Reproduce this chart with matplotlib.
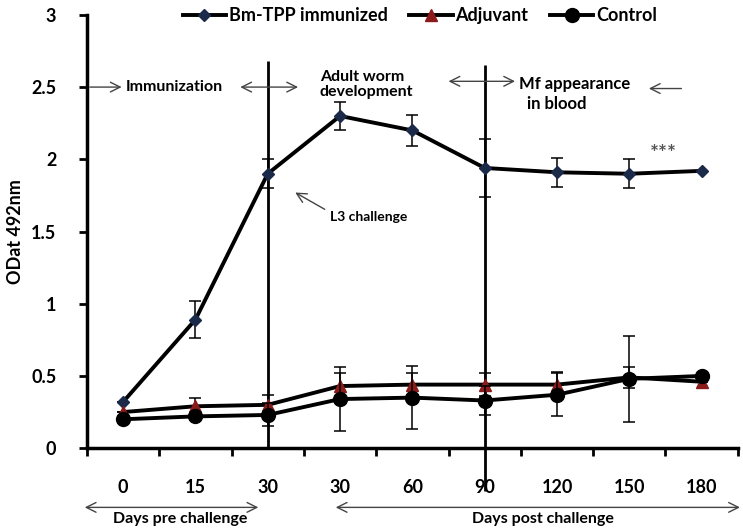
import matplotlib
matplotlib.use("Agg")
from matplotlib import pyplot as plt
from matplotlib.lines import Line2D
import numpy as np

plt.rcParams['font.family'] = ['Lato', 'DejaVu Sans']
plt.rcParams['font.weight'] = 'bold'

days = ['0', '15', '30', '30', '60', '90', '120', '150', '180']
bm_tpp = [0.32, 0.89, 1.90, 2.30, 2.20, 1.94, 1.91, 1.90, 1.92]
bm_err = [0, 0.13, 0.10, 0.10, 0.11, 0.20, 0.10, 0.10, 0]
adjuvant = [0.25, 0.29, 0.30, 0.43, 0.44, 0.44, 0.44, 0.49, 0.46]
adj_err = [0, 0.06, 0.07, 0.09, 0.08, 0.08, 0.09, 0.07, 0]
control = [0.20, 0.22, 0.23, 0.34, 0.35, 0.33, 0.37, 0.48, 0.50]
ctrl_err = [0, 0, 0.08, 0.22, 0.22, 0.10, 0.15, 0.30, 0]

x = np.arange(len(days))

fig = plt.figure(figsize=(7.43, 5.31), dpi=100)
ax = fig.add_axes([0.117, 0.156, 0.876, 0.816])

ebkw = dict(ecolor='black', elinewidth=1.1, capsize=4, capthick=1.1)
sty = {
    'Bm-TPP immunized': dict(marker='D', ms=6, mfc='#1c2a4a', mec='#1c2a4a'),
    'Adjuvant': dict(marker='^', ms=9, mfc='#8b1a1a', mec='#8b1a1a'),
    'Control': dict(marker='o', ms=10, mfc='black', mec='black'),
}
ax.errorbar(x, bm_tpp, yerr=bm_err, color='black', lw=2.8, zorder=3,
            **sty['Bm-TPP immunized'], **ebkw)
ax.errorbar(x, adjuvant, yerr=adj_err, color='black', lw=2.8, zorder=4,
            **sty['Adjuvant'], **ebkw)
ax.errorbar(x, control, yerr=ctrl_err, color='black', lw=2.8, zorder=5,
            **sty['Control'], **ebkw)

# phase separators
ax.vlines(2, 0, 2.68, color='black', lw=2, zorder=2)
ax.vlines(5, -0.3, 2.65, color='black', lw=2, zorder=2, clip_on=False)

ax.set_xlim(-0.5, 8.5)
ax.set_ylim(0, 3)
ax.set_yticks([0, 0.5, 1, 1.5, 2, 2.5, 3])
ax.set_yticklabels(['0', '0.5', '1', '1.5', '2', '2.5', '3'])
ax.set_xticks(x)
ax.set_xticklabels(days)
ax.set_xticks(np.arange(-0.5, 9, 1), minor=True)
ax.tick_params(axis='x', which='major', length=0, pad=22, labelsize=13)
ax.tick_params(axis='x', which='minor', length=6, width=2, direction='out')
ax.tick_params(axis='y', length=6, width=2, labelsize=13, pad=16)
for s in ['top', 'right']:
    ax.spines[s].set_visible(False)
for s in ['left', 'bottom']:
    ax.spines[s].set_linewidth(2.5)
ax.set_ylabel('ODat 492nm', fontsize=13, fontweight='bold', labelpad=5)

hd = 'head_length=0.7,head_width=0.35'
arw = dict(arrowstyle='->,' + hd, color='#444444', lw=1, shrinkA=0, shrinkB=0)
arw2 = dict(arrowstyle='<->,' + hd, color='#444444', lw=1, shrinkA=0, shrinkB=0)
fs = 11.5

# top annotations
ax.annotate('', xy=(-0.02, 2.5), xytext=(-0.46, 2.5), arrowprops=arw, annotation_clip=False)
ax.text(0.03, 2.5, 'Immunization', fontsize=fs, va='center', ha='left')
ax.annotate('', xy=(1.62, 2.5), xytext=(2.42, 2.5), arrowprops=arw2)
ax.text(2.72, 2.52, 'Adult worm\ndevelopment', fontsize=fs, va='center', ha='left', linespacing=1.1)
ax.annotate('', xy=(4.5, 2.54), xytext=(5.42, 2.54), arrowprops=arw2)
ax.text(5.48, 2.52, 'Mf appearance', fontsize=12, va='center', ha='left')
ax.text(5.58, 2.38, 'in blood', fontsize=12, va='center', ha='left')
ax.annotate('', xy=(7.27, 2.49), xytext=(7.72, 2.49), arrowprops=arw)
ax.annotate('L3 challenge', xy=(2.38, 1.77), xytext=(2.86, 1.60), fontsize=10,
            va='center', ha='left',
            arrowprops=dict(arrowstyle='->,' + hd, color='#444444', lw=1,
                            shrinkA=2, shrinkB=0, relpos=(0, 0.9)))
ax.text(7.47, 2.04, '***', fontsize=15, ha='center', va='center', color='#555555')

# bottom annotations
ax.annotate('', xy=(-0.53, -0.41), xytext=(1.87, -0.41), arrowprops=arw2, annotation_clip=False)
ax.text(0.79, -0.49, 'Days pre challenge', fontsize=fs, ha='center', va='center')
ax.annotate('', xy=(2.94, -0.41), xytext=(8.53, -0.41), arrowprops=arw2, annotation_clip=False)
ax.text(5.8, -0.49, 'Days post challenge', fontsize=fs, ha='center', va='center')

handles = [Line2D([], [], color='black', lw=2.8, **sty[k]) for k in sty]
fig.legend(handles, list(sty), loc='center', bbox_to_anchor=(0.565, 0.97), ncol=3,
           frameon=False, fontsize=13, handlelength=2.4, columnspacing=1.2,
           handletextpad=0.15, borderaxespad=0)

fig.savefig('out.png', dpi=100)
